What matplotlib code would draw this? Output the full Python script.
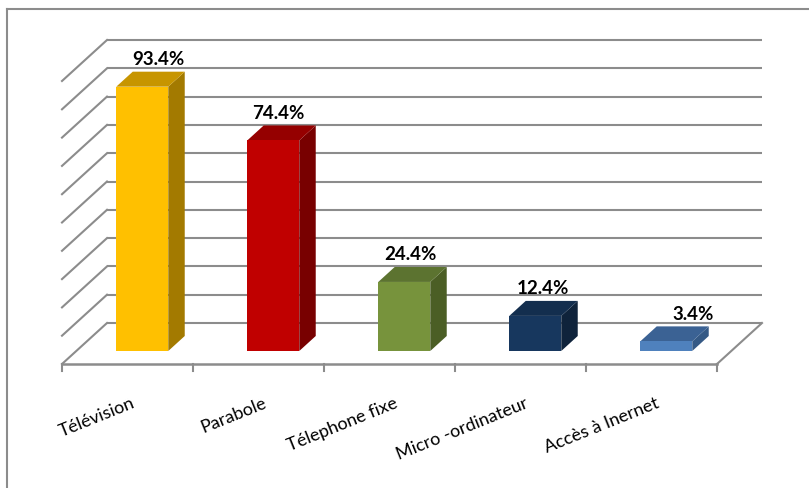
import matplotlib.pyplot as plt
from matplotlib.patches import Polygon
from matplotlib.lines import Line2D

categories = ['Télévision', 'Parabole', 'Télephone fixe', 'Micro -ordinateur', 'Accès à Inernet']
values = [93.4, 74.4, 24.4, 12.4, 3.4]

front_colors = ['#FFC000', '#C00000', '#77933C', '#17375E', '#4F81BD']
top_colors = ['#C79500', '#950000', '#5C7330', '#132E4E', '#3B6294']
side_colors = ['#A37A00', '#780000', '#4B5E25', '#0F233B', '#355985']
label_nudge = [0.0, -0.09, -0.08, -0.07, 0.08]

W, H = 809, 489
PX_CAT = 131.0      # pixels per category
PX_PCT = 2.83       # pixels per percent
X0, Y0 = 62, 365    # front-left corner of the floor
DEPTH_DX = 45 / PX_CAT
DEPTH_DY = 41 / PX_PCT
D_FRONT, D_BACK = 13 / 41, 28 / 41
BAR_OFF, BAR_W = 40 / PX_CAT, 52 / PX_CAT
GRID = '#8C8C8C'

plt.rcParams['font.family'] = ['Lato', 'DejaVu Sans']


def proj(x, y, d):
    return x + d * DEPTH_DX, y + d * DEPTH_DY


fig = plt.figure(figsize=(W / 100, H / 100), dpi=100)
ax = fig.add_axes([0, 0, 1, 1])
ax.set_xlim(-X0 / PX_CAT, (W - X0) / PX_CAT)
ax.set_ylim((Y0 - H) / PX_PCT, Y0 / PX_PCT)
ax.axis('off')

n = len(categories)

# walls: horizontal lines on the back, diagonals on the left side
for v in range(0, 101, 10):
    bx0, by0 = proj(0, v, 1)
    bx1, by1 = proj(n, v, 1)
    ax.plot([bx0, bx1], [by0, by1], color=GRID, lw=1.5, zorder=1,
            solid_capstyle='butt')
    fx, fy = proj(0, v, 0)
    ax.plot([fx, bx0], [fy, by0], color=GRID, lw=1.5, zorder=1)

# floor front and right edges, category ticks
ax.plot([0, n], [0, 0], color=GRID, lw=1.8, zorder=1)
rx, ry = proj(n, 0, 1)
ax.plot([n, rx], [0, ry], color=GRID, lw=1.5, zorder=1)
for i in range(n + 1):
    ax.plot([i, i], [0, -7 / PX_PCT], color=GRID, lw=1.5, zorder=1)

for i, (cat, v) in enumerate(zip(categories, values)):
    left = i + BAR_OFF
    right = left + BAR_W
    front = [proj(left, 0, D_FRONT), proj(right, 0, D_FRONT),
             proj(right, v, D_FRONT), proj(left, v, D_FRONT)]
    top = [proj(left, v, D_FRONT), proj(right, v, D_FRONT),
           proj(right, v, D_BACK), proj(left, v, D_BACK)]
    side = [proj(right, 0, D_FRONT), proj(right, 0, D_BACK),
            proj(right, v, D_BACK), proj(right, v, D_FRONT)]
    ax.add_patch(Polygon(side, closed=True, fc=side_colors[i], ec='none', zorder=3))
    ax.add_patch(Polygon(top, closed=True, fc=top_colors[i], ec='none', zorder=3))
    ax.add_patch(Polygon(front, closed=True, fc=front_colors[i], ec='none', zorder=4))

    lx, ly = proj((left + right) / 2, v, D_BACK)
    ax.text(lx + label_nudge[i], ly + 13 / PX_PCT, f'{v}%', ha='center', va='center',
            fontsize=13.5, fontweight='bold', color='black', zorder=5)

    ax.text(i + 0.5 + 4 / PX_CAT, -30 / PX_PCT, cat, ha='right', va='top',
            rotation=22, rotation_mode='anchor', fontsize=13, color='black')

# chart frame (only the top and left edges fall inside the image)
fig.add_artist(Line2D([7 / W, 7 / W], [0, 1 - 10 / H], color=GRID, lw=1.5,
                      transform=fig.transFigure))
fig.add_artist(Line2D([7 / W, 1], [1 - 10 / H, 1 - 10 / H], color=GRID, lw=1.5,
                      transform=fig.transFigure))

fig.savefig('out.png', dpi=100)
